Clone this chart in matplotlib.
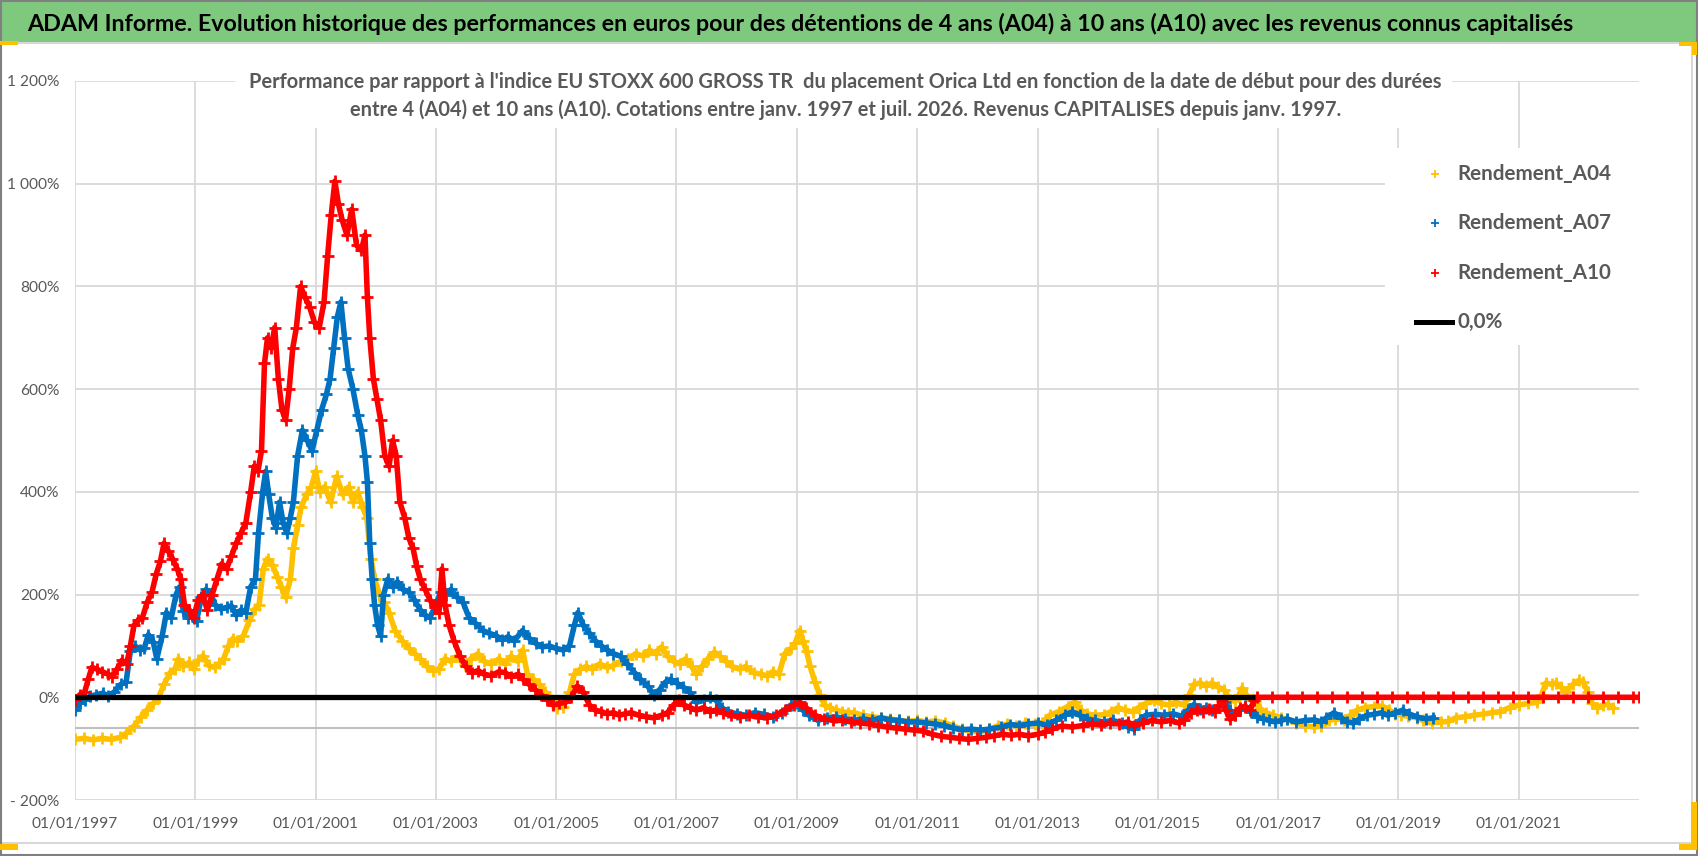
import matplotlib
matplotlib.use('Agg')
import matplotlib.pyplot as plt
import matplotlib.dates as mdates
from matplotlib import font_manager
from matplotlib.lines import Line2D
from matplotlib.patches import Rectangle
from matplotlib.ticker import FuncFormatter
import numpy as np
import pandas as pd

# values: start date (decimal year) and performance in %
a04_years = [1997.00, 1997.15, 1997.30, 1997.45, 1997.60, 1997.75, 1997.85, 1997.98, 1998.10, 1998.20,
             1998.30, 1998.39, 1998.48, 1998.58, 1998.66, 1998.72, 1998.80, 1998.90, 1998.97, 1999.05,
             1999.13, 1999.22, 1999.32, 1999.40, 1999.47, 1999.55, 1999.62, 1999.70, 1999.80, 1999.90,
             1999.99, 2000.06, 2000.13, 2000.20, 2000.28, 2000.36, 2000.43, 2000.50, 2000.58, 2000.63,
             2000.70, 2000.76, 2000.85, 2000.93, 2001.00, 2001.07, 2001.15, 2001.25, 2001.35, 2001.45,
             2001.55, 2001.62, 2001.70, 2001.78, 2001.85, 2001.92, 2001.98, 2002.06, 2002.14, 2002.22,
             2002.32, 2002.44, 2002.55, 2002.65, 2002.74, 2002.85, 2002.95, 2003.05, 2003.15, 2003.25,
             2003.35, 2003.48, 2003.58, 2003.70, 2003.80, 2003.92, 2004.05, 2004.15, 2004.25, 2004.36,
             2004.44, 2004.52, 2004.62, 2004.72, 2004.82, 2004.92, 2005.02, 2005.12, 2005.22, 2005.30,
             2005.40, 2005.50, 2005.60, 2005.72, 2005.85, 2005.95, 2006.07, 2006.20, 2006.32, 2006.45,
             2006.55, 2006.65, 2006.75, 2006.85, 2006.95, 2007.05, 2007.15, 2007.25, 2007.33, 2007.42,
             2007.52, 2007.63, 2007.72, 2007.82, 2007.92, 2008.05, 2008.15, 2008.28, 2008.40, 2008.50,
             2008.60, 2008.70, 2008.80, 2008.90, 2008.97, 2009.05, 2009.10, 2009.16, 2009.22, 2009.30,
             2009.38, 2009.46, 2009.55, 2009.65, 2009.75, 2009.85, 2009.95, 2010.10, 2010.25, 2010.40,
             2010.55, 2010.70, 2010.85, 2011.00, 2011.15, 2011.30, 2011.46, 2011.60, 2011.75, 2011.90,
             2012.05, 2012.20, 2012.35, 2012.50, 2012.65, 2012.80, 2012.95, 2013.07, 2013.20, 2013.35,
             2013.50, 2013.62, 2013.72, 2013.83, 2013.95, 2014.10, 2014.22, 2014.34, 2014.45, 2014.58,
             2014.68, 2014.80, 2014.93, 2015.05, 2015.18, 2015.30, 2015.44, 2015.52, 2015.60, 2015.70,
             2015.80, 2015.90, 2016.00, 2016.10, 2016.20, 2016.28, 2016.35, 2016.40, 2016.47, 2016.55,
             2016.62, 2016.70, 2016.80, 2016.92, 2017.05, 2017.15, 2017.30, 2017.45, 2017.60, 2017.72,
             2017.85, 2017.95, 2018.10, 2018.20, 2018.31, 2018.45, 2018.60, 2018.73, 2018.85, 2018.95,
             2019.05, 2019.16, 2019.30, 2019.40, 2019.55, 2019.70, 2019.83, 2019.95, 2020.10, 2020.25,
             2020.40, 2020.55, 2020.68, 2020.85, 2021.00, 2021.15, 2021.30, 2021.38, 2021.45, 2021.55,
             2021.62, 2021.70, 2021.78, 2021.90, 2022.00, 2022.07, 2022.15, 2022.22, 2022.30, 2022.40,
             2022.48, 2022.56]
a04_perf = [-82, -80, -83, -80, -82, -78, -70, -56, -38, -24,
            -12, 0, 25, 48, 55, 75, 60, 68, 55, 72,
            81, 62, 58, 66, 75, 100, 114, 110, 120, 150,
            172, 180, 250, 270, 258, 235, 215, 195, 230, 290,
            335, 370, 395, 410, 440, 400, 410, 380, 430, 395,
            410, 380, 400, 370, 350, 270, 230, 200, 185, 165,
            130, 110, 95, 85, 75, 60, 52, 55, 75, 70,
            80, 62, 75, 85, 70, 65, 75, 65, 80, 70,
            92, 45, 35, 25, 10, -5, -20, -18, 10, 45,
            55, 60, 55, 65, 58, 62, 70, 75, 85, 80,
            92, 85, 98, 80, 70, 65, 75, 60, 45, 60,
            75, 88, 80, 70, 60, 55, 60, 48, 45, 42,
            50, 45, 85, 95, 105, 130, 110, 90, 60, 30,
            5, -15, -20, -25, -28, -30, -30, -35, -38, -40,
            -42, -45, -47, -45, -48, -46, -50, -56, -62, -66,
            -68, -62, -55, -52, -55, -50, -52, -50, -35, -28,
            -18, -10, -25, -32, -35, -34, -28, -20, -25, -28,
            -20, -12, -5, -12, -15, -10, -15, 5, 25, 28,
            22, 28, 20, 15, -5, -8, 5, 18, 5, -5,
            -8, -22, -30, -35, -40, -43, -50, -55, -58, -55,
            -45, -42, -44, -35, -25, -20, -18, -17, -25, -32,
            -35, -37, -40, -45, -50, -48, -47, -40, -38, -35,
            -33, -30, -28, -20, -15, -12, -10, 5, 28, 25,
            28, 20, 10, 25, 33, 30, 10, -12, -20, -15,
            -14, -20]

a07_years = [1997.00, 1997.08, 1997.16, 1997.25, 1997.35, 1997.46, 1997.55, 1997.65, 1997.76, 1997.85,
             1997.92, 1998.00, 1998.08, 1998.15, 1998.22, 1998.30, 1998.36, 1998.45, 1998.52, 1998.60,
             1998.68, 1998.74, 1998.80, 1998.88, 1998.95, 1999.02, 1999.10, 1999.18, 1999.26, 1999.33,
             1999.42, 1999.52, 1999.60, 1999.68, 1999.76, 1999.84, 1999.92, 2000.00, 2000.05, 2000.12,
             2000.17, 2000.22, 2000.28, 2000.34, 2000.40, 2000.46, 2000.52, 2000.58, 2000.63, 2000.70,
             2000.78, 2000.86, 2000.94, 2001.02, 2001.10, 2001.18, 2001.24, 2001.30, 2001.36, 2001.42,
             2001.48, 2001.54, 2001.62, 2001.70, 2001.76, 2001.82, 2001.86, 2001.90, 2001.94, 2001.98,
             2002.03, 2002.08, 2002.13, 2002.20, 2002.28, 2002.36, 2002.45, 2002.55, 2002.64, 2002.74,
             2002.82, 2002.90, 2002.98, 2003.08, 2003.16, 2003.25, 2003.35, 2003.45, 2003.55, 2003.65,
             2003.78, 2003.88, 2004.00, 2004.10, 2004.20, 2004.30, 2004.44, 2004.55, 2004.66, 2004.76,
             2004.88, 2005.00, 2005.12, 2005.22, 2005.30, 2005.36, 2005.45, 2005.55, 2005.65, 2005.75,
             2005.85, 2005.95, 2006.07, 2006.18, 2006.30, 2006.40, 2006.52, 2006.62, 2006.72, 2006.82,
             2006.90, 2007.00, 2007.11, 2007.22, 2007.33, 2007.45, 2007.55, 2007.65, 2007.75, 2007.85,
             2008.00, 2008.15, 2008.30, 2008.45, 2008.60, 2008.75, 2008.90, 2009.00, 2009.10, 2009.20,
             2009.35, 2009.50, 2009.65, 2009.80, 2009.95, 2010.10, 2010.25, 2010.40, 2010.55, 2010.70,
             2010.85, 2011.00, 2011.15, 2011.30, 2011.45, 2011.60, 2011.75, 2011.90, 2012.05, 2012.20,
             2012.40, 2012.55, 2012.70, 2012.85, 2013.00, 2013.15, 2013.30, 2013.45, 2013.58, 2013.70,
             2013.82, 2013.95, 2014.10, 2014.25, 2014.40, 2014.50, 2014.60, 2014.70, 2014.80, 2014.95,
             2015.10, 2015.25, 2015.40, 2015.50, 2015.60, 2015.70, 2015.80, 2015.90, 2016.00, 2016.11,
             2016.20, 2016.28, 2016.36, 2016.45, 2016.55, 2016.65, 2016.75, 2016.85, 2016.95, 2017.05,
             2017.15, 2017.30, 2017.45, 2017.60, 2017.72, 2017.80, 2017.93, 2018.05, 2018.14, 2018.25,
             2018.35, 2018.48, 2018.60, 2018.72, 2018.82, 2018.95, 2019.07, 2019.17, 2019.30, 2019.45,
             2019.58]
a07_perf = [-24, -12, -5, 2, 5, 8, 3, 10, 25, 30,
            90, 100, 92, 95, 122, 108, 75, 120, 165, 155,
            200, 215, 168, 155, 160, 148, 195, 210, 200, 180,
            172, 175, 178, 160, 170, 165, 215, 230, 320, 400,
            440, 395, 350, 330, 380, 340, 320, 350, 380, 470,
            520, 500, 480, 520, 560, 590, 620, 680, 740, 770,
            700, 640, 600, 550, 520, 470, 420, 300, 230, 180,
            140, 120, 200, 230, 215, 225, 210, 205, 190, 170,
            160, 155, 175, 205, 200, 210, 195, 185, 155, 145,
            130, 125, 120, 112, 118, 110, 130, 115, 105, 98,
            100, 95, 92, 100, 140, 165, 140, 125, 110, 100,
            92, 85, 80, 65, 48, 35, 22, 5, 15, 30,
            35, 28, 20, 10, -10, -5, 0, -5, -20, -28,
            -32, -35, -30, -33, -38, -30, -15, -12, -25, -35,
            -45, -40, -38, -42, -45, -42, -45, -40, -44, -45,
            -48, -48, -50, -52, -55, -60, -63, -62, -64, -62,
            -58, -53, -55, -52, -50, -54, -45, -35, -28, -35,
            -42, -45, -48, -45, -50, -58, -62, -45, -35, -33,
            -35, -32, -37, -25, -14, -22, -20, -25, -18, -10,
            -25, -35, -25, -17, -28, -38, -42, -45, -48, -45,
            -42, -48, -45, -44, -48, -40, -30, -40, -48, -50,
            -42, -35, -33, -30, -35, -30, -25, -32, -38, -42,
            -40]

a10_years = [1997.00, 1997.08, 1997.16, 1997.22, 1997.28, 1997.36, 1997.45, 1997.55, 1997.62, 1997.70,
             1997.78, 1997.86, 1997.92, 1997.98, 1998.05, 1998.12, 1998.20, 1998.28, 1998.35, 1998.42,
             1998.48, 1998.55, 1998.62, 1998.70, 1998.76, 1998.82, 1998.90, 1998.97, 1999.05, 1999.12,
             1999.20, 1999.28, 1999.36, 1999.44, 1999.52, 1999.60, 1999.68, 1999.76, 1999.84, 1999.92,
             1999.98, 2000.04, 2000.10, 2000.15, 2000.20, 2000.26, 2000.32, 2000.38, 2000.44, 2000.50,
             2000.56, 2000.62, 2000.68, 2000.75, 2000.82, 2000.90, 2000.98, 2001.06, 2001.14, 2001.20,
             2001.26, 2001.32, 2001.38, 2001.44, 2001.52, 2001.60, 2001.68, 2001.76, 2001.82, 2001.86,
             2001.90, 2001.96, 2002.02, 2002.08, 2002.15, 2002.22, 2002.28, 2002.34, 2002.40, 2002.48,
             2002.55, 2002.62, 2002.68, 2002.74, 2002.82, 2002.90, 2002.98, 2003.05, 2003.10, 2003.15,
             2003.22, 2003.30, 2003.40, 2003.50, 2003.60, 2003.70, 2003.80, 2003.92, 2004.05, 2004.15,
             2004.25, 2004.37, 2004.45, 2004.55, 2004.65, 2004.75, 2004.85, 2004.95, 2005.05, 2005.15,
             2005.25, 2005.35, 2005.45, 2005.55, 2005.65, 2005.75, 2005.85, 2005.95, 2006.05, 2006.15,
             2006.25, 2006.37, 2006.50, 2006.62, 2006.75, 2006.85, 2006.95, 2007.04, 2007.12, 2007.22,
             2007.33, 2007.45, 2007.55, 2007.65, 2007.78, 2007.90, 2008.05, 2008.20, 2008.35, 2008.50,
             2008.65, 2008.80, 2008.95, 2009.05, 2009.15, 2009.30, 2009.45, 2009.60, 2009.75, 2009.90,
             2010.05, 2010.20, 2010.35, 2010.50, 2010.65, 2010.80, 2010.95, 2011.10, 2011.25, 2011.40,
             2011.55, 2011.70, 2011.85, 2012.00, 2012.14, 2012.28, 2012.42, 2012.56, 2012.70, 2012.85,
             2013.00, 2013.12, 2013.24, 2013.40, 2013.58, 2013.75, 2013.90, 2014.05, 2014.20, 2014.35,
             2014.50, 2014.60, 2014.76, 2014.90, 2015.05, 2015.20, 2015.35, 2015.44, 2015.55, 2015.65,
             2015.75, 2015.85, 2015.95, 2016.02, 2016.07, 2016.13, 2016.20, 2016.28, 2016.37, 2016.45,
             2016.54, 2016.60, 2016.65, 2016.90, 2017.15, 2017.40, 2017.65, 2017.90, 2018.15, 2018.40,
             2018.65, 2018.90, 2019.15, 2019.40, 2019.65, 2019.90, 2020.15, 2020.40, 2020.65, 2020.90,
             2021.15, 2021.40, 2021.65, 2021.90, 2022.15, 2022.40, 2022.65, 2022.90, 2023.00]
a10_perf = [-5, 5, 10, 35, 58, 55, 50, 45, 40, 55,
            72, 65, 100, 140, 150, 155, 185, 205, 240, 265,
            300, 285, 270, 250, 230, 180, 170, 155, 190, 200,
            170, 200, 230, 260, 250, 275, 300, 320, 340, 400,
            450, 440, 480, 650, 700, 680, 720, 620, 560, 540,
            600, 680, 720, 800, 780, 760, 730, 720, 770, 860,
            940, 1005, 960, 930, 900, 950, 880, 870, 900, 780,
            700, 620, 580, 540, 470, 450, 500, 470, 380, 350,
            310, 290, 255, 230, 210, 190, 175, 165, 250, 180,
            140, 110, 80, 60, 48, 52, 45, 42, 50, 48,
            40, 45, 35, 25, 15, 5, -5, -15, -12, -10,
            0, 22, 10, -15, -25, -28, -32, -30, -35, -32,
            -30, -35, -38, -40, -35, -30, -15, -5, -15, -20,
            -25, -20, -28, -25, -30, -35, -38, -35, -38, -40,
            -35, -25, -15, -10, -20, -35, -42, -45, -45, -48,
            -50, -52, -55, -58, -60, -62, -64, -66, -72, -76,
            -78, -80, -82, -80, -78, -75, -72, -74, -72, -75,
            -72, -68, -62, -56, -58, -55, -52, -54, -50, -52,
            -48, -55, -50, -45, -48, -45, -50, -45, -30, -25,
            -28, -22, -28, -15, -7, -25, -43, -35, -20, -18,
            -24, -5, 0, 0, 0, 0, 0, 0, 0, 0,
            0, 0, 0, 0, 0, 0, 0, 0, 0, 0,
            0, 0, 0, 0, 0, 0, 0, 0, 0]

zero_years = [1997.0, 2016.62]
zero_perf = [0, 0]

series_names = ['Rendement_A04', 'Rendement_A07', 'Rendement_A10']
series_colors = ['#FFC000', '#0070C0', '#FF0000']
tick_years = [1997, 1999, 2001, 2003, 2005, 2007, 2009, 2011, 2013, 2015, 2017, 2019, 2021]
y_ticks = [-200, 0, 200, 400, 600, 800, 1000, 1200]

title = ("ADAM Informe. Evolution historique des performances en euros pour des détentions "
         "de 4 ans (A04) à 10 ans (A10) avec les revenus connus capitalisés")
sub1 = ("Performance par rapport à l'indice EU STOXX 600 GROSS TR  du placement Orica Ltd "
        "en fonction de la date de début pour des durées")
sub2 = ("entre 4 (A04) et 10 ans (A10). Cotations entre janv. 1997 et juil. 2026. "
        "Revenus CAPITALISES depuis janv. 1997.")

names = {f.name for f in font_manager.fontManager.ttflist}
FONT = 'Liberation Sans Narrow' if 'Liberation Sans Narrow' in names else 'Lato'
plt.rcParams['font.family'] = [FONT, 'DejaVu Sans']

GREY = '#595959'
W, H = 1698, 856


def to_dates(years):
    y = np.asarray(years, dtype=float)
    return pd.Timestamp('1997-01-01') + pd.to_timedelta((y - 1997) * 365.25, unit='D')


def fx(px):
    return px / W


def fy(py):
    return 1 - py / H


fig = plt.figure(figsize=(W / 100, H / 100), dpi=100)
fig.patch.set_facecolor('white')
renderer = fig.canvas.get_renderer()


def size_for(s, target_px, weight='normal'):
    t = fig.text(0, 0, s, fontsize=10, fontweight=weight)
    w = t.get_window_extent(renderer).width
    t.remove()
    return 10 * target_px / w


ax = fig.add_axes([fx(75), fy(800), fx(1639 - 75), (800 - 81) / H])
ax.set_facecolor('white')

for yrs, vals, col, z in zip([a04_years, a07_years, a10_years], [a04_perf, a07_perf, a10_perf],
                             series_colors, [3, 4, 5]):
    ax.plot(to_dates(yrs), vals, color=col, lw=4, marker='+', ms=9, mew=2, zorder=z)

ax.plot(to_dates(zero_years), zero_perf, color='black', lw=3.8, solid_capstyle='butt', zorder=6)
ax.axhline(-60, color='#bfbfbf', lw=1.5, zorder=1.5)

ax.set_xlim(pd.Timestamp('1997-01-01'), pd.Timestamp('2023-01-01'))
ax.set_ylim(-200, 1200)
ax.set_xticks([pd.Timestamp(f'{y}-01-01') for y in tick_years])
ax.xaxis.set_major_formatter(mdates.DateFormatter('%d/%m/%Y'))
ax.set_yticks(y_ticks)


def fr_pct(v, pos):
    s = f'{abs(int(v)):,}'.replace(',', ' ') + '%'
    return '- ' + s if v < 0 else s


ax.yaxis.set_major_formatter(FuncFormatter(fr_pct))
for s in ax.spines.values():
    s.set_visible(False)
ax.grid(True, color='#d9d9d9', lw=1.3, zorder=0)
ax.set_axisbelow(True)

tick_fs = size_for('01/01/1997', 86)
ax.tick_params(axis='both', length=0, labelsize=tick_fs, labelcolor=GREY)
ax.tick_params(axis='y', pad=11)
ax.tick_params(axis='x', pad=12)

# title band
fig.add_artist(Rectangle((0, fy(42)), 1, 42 / H, transform=fig.transFigure,
                         facecolor='#7fc97f', edgecolor='none', zorder=1))
fig.text(fx(27), fy(24), title, fontsize=size_for(title, 1554, 'bold'), fontweight='bold',
         color='black', ha='left', va='center', zorder=3)

# subtitle with white box
fig.add_artist(Rectangle((fx(235), fy(128)), fx(1452 - 235), 73 / H, transform=fig.transFigure,
                         facecolor='white', edgecolor='none', zorder=1))
sub_fs = size_for(sub1, 1196, 'bold')
fig.text(fx(845), fy(82), sub1, fontsize=sub_fs, fontweight='bold', color=GREY,
         ha='center', va='center', zorder=3)
fig.text(fx(846), fy(110), sub2, fontsize=sub_fs, fontweight='bold', color=GREY,
         ha='center', va='center', zorder=3)

# legend
fig.add_artist(Rectangle((fx(1385), fy(345)), fx(1641 - 1385), (345 - 148) / H,
                         transform=fig.transFigure, facecolor='white', edgecolor='none', zorder=1))
leg_fs = size_for('Rendement_A04', 155, 'bold')
for name, col, py in zip(series_names, series_colors, [174, 223, 273]):
    fig.add_artist(Line2D([fx(1435)], [fy(py)], transform=fig.transFigure, marker='+', ms=6,
                          mew=1.3, color=col, ls='none', zorder=3))
    fig.text(fx(1457), fy(py), name, fontsize=leg_fs, fontweight='bold', color=GREY,
             ha='left', va='center', zorder=3)
fig.add_artist(Line2D([fx(1416), fx(1452)], [fy(322), fy(322)], transform=fig.transFigure,
                      color='black', lw=3.6, zorder=3))
fig.text(fx(1457), fy(322), '0,0%', fontsize=leg_fs, fontweight='bold', color=GREY,
         ha='left', va='center', zorder=3)

# frame lines and corner marks
fig.add_artist(Line2D([0, fx(1692)], [fy(843), fy(843)], transform=fig.transFigure,
                      color='#d0d0d0', lw=1.2, zorder=2))
fig.add_artist(Line2D([fx(1692), fx(1692)], [fy(843), fy(44)], transform=fig.transFigure,
                      color='#d0d0d0', lw=1.2, zorder=2))
fig.add_artist(Line2D([0, 1], [fy(43), fy(43)], transform=fig.transFigure,
                      color='#d0d0d0', lw=1.2, zorder=2))
fig.add_artist(Rectangle((0.0005, 0.001), 0.999, 0.998, transform=fig.transFigure,
                         facecolor='none', edgecolor='#808080', lw=1.5, zorder=4))
for (x0, y0, w, h) in [(0, 844, 18, 6), (1679, 844, 18, 6), (1691, 802, 6, 48),
                       (1679, 42, 17, 4), (1692, 42, 5, 13), (0, 41, 18, 4)]:
    fig.add_artist(Rectangle((fx(x0), fy(y0 + h)), fx(w), h / H, transform=fig.transFigure,
                             facecolor='#FFC000', edgecolor='none', zorder=4))

fig.savefig('out.png', dpi=100, facecolor='white')
